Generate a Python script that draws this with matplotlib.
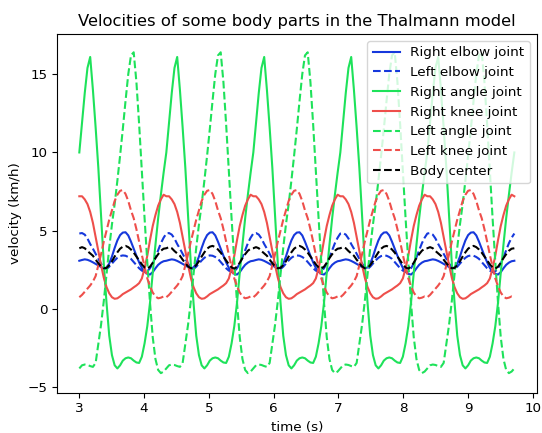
import numpy as np
import matplotlib
matplotlib.use("Agg")
import matplotlib.pyplot as plt

# one stride (two steps) of each signal,
# sampled every STRIDE / 32 seconds starting at t = 3.0 s
STRIDE = 1.343
T_START = 3.0
T_END = 9.72

right_elbow = [3.08, 3.13, 3.17, 3.14, 3.07, 2.98, 2.88, 2.78, 2.68, 2.60, 2.65, 2.90,
               3.35, 3.90, 4.38, 4.72, 4.88, 4.90, 4.70, 4.30, 3.85, 3.40, 2.98, 2.62,
               2.38, 2.24, 2.20, 2.35, 2.60, 2.82, 2.96, 3.05]
left_elbow = [4.82, 4.85, 4.75, 4.50, 4.15, 3.85, 3.52, 3.20, 2.90, 2.65, 2.55, 2.70,
              2.90, 3.10, 3.27, 3.38, 3.42, 3.40, 3.32, 3.20, 3.00, 2.80, 2.60, 2.45,
              2.37, 2.40, 2.60, 2.90, 3.30, 3.75, 4.20, 4.55]
right_angle = [10.0, 11.9, 13.8, 15.4, 16.1, 14.0, 11.6, 9.0, 5.9, 2.9, 0.4, -1.7,
               -2.95, -3.6, -3.8, -3.6, -3.3, -3.15, -3.1, -3.15, -3.3, -3.42, -3.45, -3.05,
               -2.2, -1.1, 0.4, 2.3, 4.1, 5.8, 7.3, 8.7]
left_angle = [-3.8, -3.6, -3.55, -3.58, -3.65, -3.7, -3.45, -2.2, -1.0, 0.5, 2.2, 3.9,
              5.4, 6.7, 8.2, 9.8, 11.5, 13.3, 15.0, 16.2, 16.4, 14.5, 11.8, 8.8,
              5.8, 3.0, 0.4, -1.8, -3.2, -3.9, -4.1, -4.0]
right_knee = [7.2, 7.2, 7.0, 6.7, 6.2, 5.5, 4.6, 3.7, 2.8, 2.0, 1.4, 1.0,
              0.75, 0.65, 0.68, 0.8, 0.95, 1.05, 1.15, 1.25, 1.38, 1.5, 1.65, 1.95,
              2.6, 3.4, 4.4, 5.3, 6.0, 6.6, 7.0, 7.3]
left_knee = [0.75, 0.9, 1.1, 1.3, 1.5, 1.75, 2.1, 2.8, 3.5, 4.3, 5.0, 5.7,
             6.3, 6.9, 7.3, 7.55, 7.6, 7.35, 6.9, 6.3, 5.8, 5.1, 4.3, 3.45,
             2.7, 1.95, 1.45, 1.05, 0.8, 0.68, 0.72, 0.8]
body_center = [3.88, 3.95, 3.88, 3.70, 3.55, 3.40, 3.15, 2.92, 2.72, 2.60, 2.62, 2.80,
               3.05, 3.35, 3.62, 3.85, 3.98, 4.03, 3.95, 3.80, 3.60, 3.35, 3.10, 2.85,
               2.65, 2.58, 2.70, 2.95, 3.25, 3.50, 3.72, 3.85]

series = [
    ("Right elbow joint", right_elbow, "#1638dc", "-"),
    ("Left elbow joint", left_elbow, "#1638dc", "--"),
    ("Right angle joint", right_angle, "#1ee25a", "-"),
    ("Right knee joint", right_knee, "#ee4f4b", "-"),
    ("Left angle joint", left_angle, "#1ee25a", "--"),
    ("Left knee joint", left_knee, "#ee4f4b", "--"),
    ("Body center", body_center, "black", "--"),
]

n_per_stride = len(right_elbow)
dt = STRIDE / n_per_stride
t = T_START + np.arange(int((T_END - T_START) / dt) + 1) * dt
n_strides = int(np.ceil(len(t) / n_per_stride))

plt.rcParams["font.size"] = 9.7

fig = plt.figure(figsize=(5.42, 4.33), dpi=100)
ax = fig.add_axes([0.1057, 0.0931, 0.8845, 0.8277])

for label, cycle, color, ls in series:
    v = np.tile(cycle, n_strides)[:len(t)]
    ax.plot(t, v, color=color, linestyle=ls, linewidth=1.5, label=label)

ax.set_xlim(2.66, 10.06)
ax.set_ylim(-5.35, 17.55)
ax.set_xticks(range(3, 11))
ax.set_yticks([-5, 0, 5, 10, 15])
ax.set_xlabel("time (s)")
ax.set_ylabel("velocity (km/h)")
ax.set_title("Velocities of some body parts in the Thalmann model", fontsize=11.8)
ax.legend(loc="upper right", fontsize=9.7)

fig.savefig("out.png", dpi=100)
